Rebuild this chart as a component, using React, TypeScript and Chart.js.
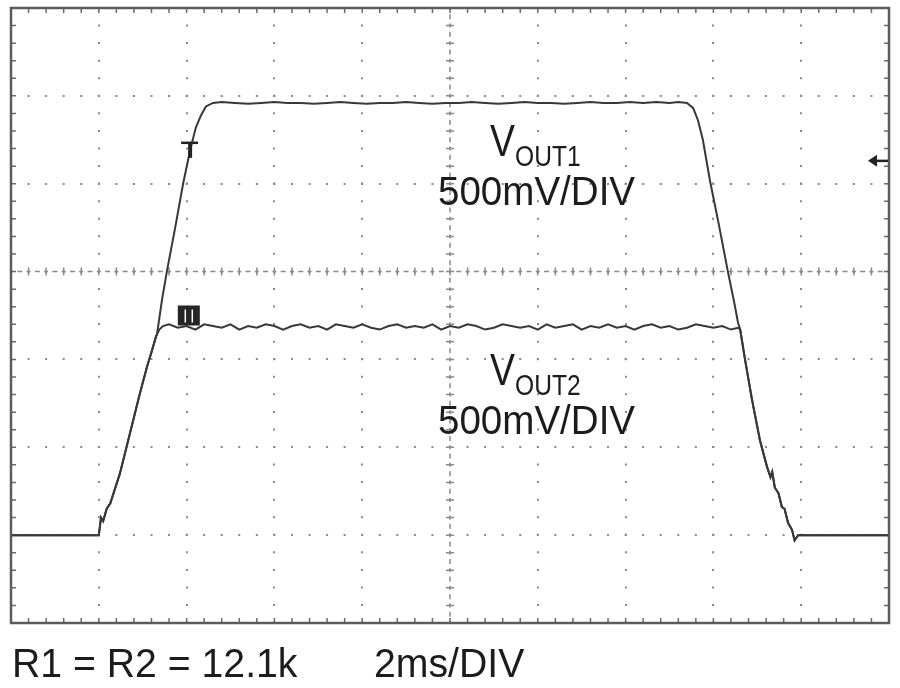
import React, { useEffect, useRef } from "react";
import { Chart, registerables } from "chart.js";

Chart.register(...registerables);

// Axis ranges: 2 ms/div horizontally (10 div), 500 mV/div vertically (7 div)
const TIME_MIN = 0;
const TIME_MAX = 20;
const TIME_DIV = 2;
const VOLT_MIN = -0.5;
const VOLT_MAX = 3.0;
const VOLT_DIV = 0.5;
const CENTER_TIME = 10;
const CENTER_VOLT = 1.5;

// [time ms, volts]
const vout1Trace: [number, number][] = [
  [0, 0], [2.0, 0], [2.05, 0.1], [2.1, 0.08], [2.18, 0.15], [2.26, 0.18], [2.48, 0.35],
  [2.71, 0.58], [2.94, 0.81], [3.1, 0.96], [3.21, 1.05], [3.33, 1.15], [3.44, 1.34],
  [3.55, 1.5], [3.74, 1.75], [3.92, 2.0], [4.08, 2.19], [4.21, 2.32], [4.33, 2.39],
  [4.44, 2.44], [4.6, 2.46], [4.8, 2.465], [5.1, 2.46], [5.4, 2.455], [5.7, 2.46],
  [6.0, 2.465], [6.3, 2.46], [6.6, 2.46], [6.9, 2.455], [7.2, 2.46], [7.5, 2.465],
  [7.8, 2.46], [8.1, 2.455], [8.4, 2.46], [8.7, 2.46], [9.0, 2.465], [9.3, 2.46],
  [9.6, 2.455], [9.9, 2.46], [10.2, 2.46], [10.5, 2.465], [10.8, 2.46], [11.1, 2.455],
  [11.4, 2.46], [11.7, 2.465], [12.0, 2.46], [12.3, 2.46], [12.6, 2.455], [12.9, 2.46],
  [13.2, 2.465], [13.5, 2.46], [13.8, 2.46], [14.1, 2.465], [14.4, 2.46], [14.7, 2.465],
  [15.0, 2.46], [15.2, 2.465], [15.4, 2.46], [15.54, 2.43], [15.65, 2.36], [15.76, 2.25],
  [15.92, 2.02], [16.13, 1.76], [16.33, 1.5], [16.47, 1.33], [16.56, 1.21], [16.61, 1.17],
  [16.72, 1.0], [16.88, 0.77], [17.06, 0.54], [17.22, 0.39], [17.3, 0.33], [17.34, 0.36],
  [17.4, 0.27], [17.48, 0.24], [17.56, 0.16], [17.62, 0.15], [17.7, 0.07], [17.79, 0.03],
  [17.85, -0.03], [17.93, 0], [20, 0],
];

const vout2Trace: [number, number][] = [
  [0, 0], [2.0, 0], [2.05, 0.1], [2.1, 0.08], [2.18, 0.15], [2.26, 0.18], [2.48, 0.35],
  [2.71, 0.58], [2.94, 0.81], [3.1, 0.96], [3.21, 1.05], [3.3, 1.13], [3.38, 1.17],
  [3.46, 1.19], [3.6, 1.2], [3.8, 1.18], [4.0, 1.19], [4.2, 1.17], [4.4, 1.2],
  [4.6, 1.19], [4.8, 1.18], [5.0, 1.2], [5.2, 1.17], [5.4, 1.19], [5.6, 1.18],
  [5.8, 1.2], [6.0, 1.19], [6.2, 1.17], [6.4, 1.19], [6.6, 1.2], [6.8, 1.18],
  [7.0, 1.19], [7.2, 1.17], [7.4, 1.2], [7.6, 1.19], [7.8, 1.18], [8.0, 1.2],
  [8.2, 1.18], [8.4, 1.17], [8.6, 1.19], [8.8, 1.2], [9.0, 1.18], [9.2, 1.19],
  [9.4, 1.18], [9.6, 1.2], [9.8, 1.17], [10.0, 1.19], [10.2, 1.18], [10.4, 1.2],
  [10.6, 1.19], [10.8, 1.17], [11.0, 1.18], [11.2, 1.2], [11.4, 1.19], [11.6, 1.18],
  [11.8, 1.19], [12.0, 1.17], [12.2, 1.2], [12.4, 1.18], [12.6, 1.19], [12.8, 1.2],
  [13.0, 1.17], [13.2, 1.19], [13.4, 1.18], [13.6, 1.2], [13.8, 1.18], [14.0, 1.19],
  [14.2, 1.17], [14.4, 1.19], [14.6, 1.2], [14.8, 1.18], [15.0, 1.19], [15.2, 1.17],
  [15.4, 1.18], [15.6, 1.2], [15.8, 1.19], [16.0, 1.18], [16.2, 1.19], [16.4, 1.17],
  [16.56, 1.18], [16.61, 1.17], [16.72, 1.0], [16.88, 0.77], [17.06, 0.54], [17.22, 0.39],
  [17.3, 0.33], [17.34, 0.36], [17.4, 0.27], [17.48, 0.24], [17.56, 0.16], [17.62, 0.15],
  [17.7, 0.07], [17.79, 0.03], [17.85, -0.03], [17.93, 0], [20, 0],
];

const seriesNames = ["VOUT1", "VOUT2"];
const triggerMarker: [number, number] = [4.08, 2.21];
const channelMarker: [number, number] = [4.05, 1.25];
const triggerLevel = 2.13;

const labelMain = ["V", "V"];
const labelSub = ["OUT1", "OUT2"];
const labelScale = ["500mV/DIV", "500mV/DIV"];
const captionLeft = "R1 = R2 = 12.1k";
const captionRight = "2ms/DIV";

const FONT = '"Liberation Sans", Arial, Helvetica, sans-serif';
const TRACE = "#383838";
const TEXT = "#1c1c1c";

function drawScaled(ctx: CanvasRenderingContext2D, text: string, x: number, y: number, size: number, sx: number) {
  ctx.save();
  ctx.font = `${size}px ${FONT}`;
  ctx.textAlign = "left";
  ctx.textBaseline = "alphabetic";
  ctx.fillStyle = TEXT;
  ctx.translate(x, y);
  ctx.scale(sx, 1);
  ctx.fillText(text, 0, 0);
  ctx.restore();
}

const scopePlugin = {
  id: "scopeDecor",
  beforeDatasetsDraw(chart: any) {
    const { ctx, chartArea: a, scales } = chart;
    const x = scales.x;
    const y = scales.y;
    const subX = (x.getPixelForValue(TIME_DIV) - x.getPixelForValue(TIME_MIN)) / 5;
    const subY = (y.getPixelForValue(VOLT_MIN) - y.getPixelForValue(VOLT_MIN + VOLT_DIV)) / 5;
    const cx = x.getPixelForValue(CENTER_TIME);
    const cy = y.getPixelForValue(CENTER_VOLT);
    ctx.save();
    ctx.beginPath();
    ctx.rect(a.left, a.top, a.right - a.left, a.bottom - a.top);
    ctx.clip();
    ctx.strokeStyle = "#8a8a8a";
    ctx.lineWidth = 1.5;
    ctx.beginPath();
    for (let i = 0; i <= 50; i++) {
      const px = a.left + i * subX;
      ctx.moveTo(px, cy - 4);
      ctx.lineTo(px, cy + 4);
      ctx.moveTo(px - 2, cy);
      ctx.lineTo(px + 2, cy);
      ctx.moveTo(px + subX / 2 - 2.5, cy);
      ctx.lineTo(px + subX / 2 + 2.5, cy);
    }
    for (let i = 0; i <= 35; i++) {
      const py = a.top + i * subY;
      ctx.moveTo(cx - 4, py);
      ctx.lineTo(cx + 4, py);
      ctx.moveTo(cx, py - 2);
      ctx.lineTo(cx, py + 2);
      ctx.moveTo(cx, py + subY / 2 - 2.5);
      ctx.lineTo(cx, py + subY / 2 + 2.5);
    }
    ctx.stroke();
    // minor ticks on the frame
    ctx.strokeStyle = "#6a6a6a";
    ctx.lineWidth = 1.5;
    ctx.beginPath();
    for (let i = 1; i < 50; i++) {
      const px = a.left + i * subX;
      ctx.moveTo(px, a.top);
      ctx.lineTo(px, a.top + 5);
      ctx.moveTo(px, a.bottom - 5);
      ctx.lineTo(px, a.bottom);
    }
    for (let i = 1; i < 35; i++) {
      const py = a.top + i * subY;
      ctx.moveTo(a.left, py);
      ctx.lineTo(a.left + 5, py);
      ctx.moveTo(a.right - 5, py);
      ctx.lineTo(a.right, py);
    }
    ctx.stroke();
    ctx.restore();
  },
  afterDatasetsDraw(chart: any) {
    const { ctx, chartArea: a, scales } = chart;
    const x = scales.x;
    const y = scales.y;
    ctx.save();
    // frame
    ctx.strokeStyle = "#5c5c5c";
    ctx.lineWidth = 2.5;
    ctx.strokeRect(a.left, a.top, a.right - a.left, a.bottom - a.top);

    // trigger "T" marker
    const tx = x.getPixelForValue(triggerMarker[0]);
    const ty = y.getPixelForValue(triggerMarker[1]);
    ctx.strokeStyle = "#222222";
    ctx.lineWidth = 2.5;
    ctx.beginPath();
    ctx.moveTo(tx - 9, ty - 4);
    ctx.lineTo(tx + 8, ty - 4);
    ctx.stroke();
    ctx.lineWidth = 4;
    ctx.beginPath();
    ctx.moveTo(tx, ty - 4);
    ctx.lineTo(tx, ty + 11);
    ctx.stroke();

    // channel marker box
    const mx = x.getPixelForValue(channelMarker[0]);
    const my = y.getPixelForValue(channelMarker[1]);
    ctx.fillStyle = "#262626";
    ctx.fillRect(mx - 11, my - 10, 22, 20);
    ctx.strokeStyle = "#ffffff";
    ctx.lineWidth = 1.5;
    ctx.beginPath();
    ctx.moveTo(mx - 3.5, my - 6);
    ctx.lineTo(mx - 3.5, my + 7);
    ctx.moveTo(mx + 3.5, my - 6);
    ctx.lineTo(mx + 3.5, my + 7);
    ctx.stroke();

    // trigger level arrow at right edge
    const ay = y.getPixelForValue(triggerLevel);
    const ax = a.right - 21;
    ctx.fillStyle = "#222222";
    ctx.beginPath();
    ctx.moveTo(ax, ay);
    ctx.lineTo(ax + 9, ay - 6);
    ctx.lineTo(ax + 9, ay + 6);
    ctx.closePath();
    ctx.fill();
    ctx.strokeStyle = "#222222";
    ctx.lineWidth = 2.5;
    ctx.beginPath();
    ctx.moveTo(ax + 6, ay);
    ctx.lineTo(a.right - 1, ay);
    ctx.stroke();

    // channel labels
    const labelBases = [156, 385];
    for (let i = 0; i < 2; i++) {
      const base = labelBases[i];
      drawScaled(ctx, labelMain[i], 490, base, 44, 0.85);
      drawScaled(ctx, labelSub[i], 515, base + 10, 30, 0.82);
      drawScaled(ctx, labelScale[i], 438, base + 49, 41, 0.94);
    }
    // caption
    drawScaled(ctx, captionLeft, 12, 677, 40, 0.98);
    drawScaled(ctx, captionRight, 374, 677, 40, 0.98);
    ctx.restore();
  },
};

export default function App() {
  const canvasRef = useRef<HTMLCanvasElement | null>(null);

  useEffect(() => {
    const canvas = canvasRef.current;
    if (!canvas) return;
    const chart = new Chart(canvas, {
      type: "line",
      data: {
        datasets: [vout1Trace, vout2Trace].map((trace, i) => ({
          label: seriesNames[i],
          data: trace.map(([t, v]) => ({ x: t, y: v })),
          borderColor: TRACE,
          borderWidth: 2,
          pointRadius: 0,
          tension: 0,
          fill: false,
        })),
      },
      options: {
        animation: false,
        responsive: true,
        maintainAspectRatio: false,
        layout: { padding: { left: 11, right: 11, top: 8, bottom: 65 } },
        plugins: { legend: { display: false }, tooltip: { enabled: false } },
        scales: {
          x: {
            type: "linear",
            min: TIME_MIN,
            max: TIME_MAX,
            ticks: { display: false, stepSize: TIME_DIV },
            grid: { color: "#8a8a8a", lineWidth: 2, drawTicks: false },
            border: { display: false, dash: [2, 15.56], dashOffset: 1 },
          },
          y: {
            type: "linear",
            min: VOLT_MIN,
            max: VOLT_MAX,
            ticks: { display: false, stepSize: VOLT_DIV },
            grid: { color: "#8a8a8a", lineWidth: 2, drawTicks: false },
            border: { display: false, dash: [2, 15.56], dashOffset: 1 },
          },
        },
      },
      plugins: [scopePlugin],
    });
    return () => chart.destroy();
  }, []);

  return (
    <div style={{ position: "absolute", left: 0, top: 0, width: 900, height: 688, background: "#ffffff" }}>
      <canvas ref={canvasRef} />
    </div>
  );
}
